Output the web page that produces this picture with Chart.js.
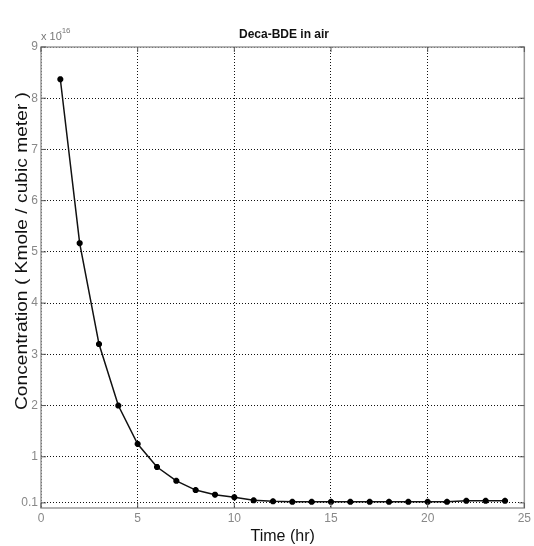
<!DOCTYPE html>
<html lang="en">
<head>
    <meta charset="UTF-8">
    <script src="https://cdn.jsdelivr.net/npm/chart.js@4.4.0/dist/chart.umd.min.js"></script>
    <title>Deca-BDE in air</title>
    <style>
        html,body{margin:0; padding:0; background:#fff;}
        div{width:534px; height:546px;}
    </style>
</head>
<body>
    <div>
        <canvas id="myChart" width="534" height="546"></canvas>
    </div>
    <script>
        // time (hr)
        const timeHr = [1,2,3,4,5,6,7,8,9,10,11,12,13,14,15,16,17,18,19,20,21,22,23,24]
        // concentration, x 10^-16 kmole / m3
        const conc = [8.37,5.17,3.2,2.0,1.25,0.8,0.53,0.35,0.26,0.21,0.15,0.13,0.12,0.12,0.12,0.12,0.12,0.12,0.12,0.12,0.12,0.14,0.14,0.14]
        const xTicks = [0,5,10,15,20,25]
        const yTicks = [0.1,1,2,3,4,5,6,7,8,9]

        const FONT = '"Liberation Sans Narrow", "Liberation Sans", Arial, sans-serif'
        const yTitle = 'Concentration ( Kmole / cubic meter )'

        // box, inner tick marks, title, y label and exponent text like matlab
        const framePlugin = {
            id:'frame',
            afterDraw(chart){
                const ctx = chart.ctx
                const a = chart.chartArea
                const xs = chart.scales.x, ys = chart.scales.y
                ctx.save()
                ctx.strokeStyle = '#9a9a9a'
                ctx.lineWidth = 1.5
                ctx.strokeRect(a.left, a.top, a.right-a.left, a.bottom-a.top)
                ctx.strokeStyle = '#555'
                ctx.lineWidth = 1
                ctx.beginPath()
                xTicks.forEach(v=>{
                    const px = xs.getPixelForValue(v)
                    ctx.moveTo(px, a.bottom); ctx.lineTo(px, a.bottom-5)
                    ctx.moveTo(px, a.top); ctx.lineTo(px, a.top+5)
                })
                yTicks.forEach(v=>{
                    const py = ys.getPixelForValue(v)
                    ctx.moveTo(a.left, py); ctx.lineTo(a.left+5, py)
                    ctx.moveTo(a.right, py); ctx.lineTo(a.right-5, py)
                })
                ctx.stroke()

                ctx.fillStyle = '#111'
                ctx.font = 'bold 12px ' + FONT
                ctx.textAlign = 'center'
                ctx.textBaseline = 'alphabetic'
                ctx.fillText('Deca-BDE in air', 284, 38)

                // y label, stretched to the length it has in the picture
                ctx.save()
                ctx.translate(27, 251)
                ctx.rotate(-Math.PI/2)
                ctx.font = '17px "Liberation Sans", Arial, sans-serif'
                const w = ctx.measureText(yTitle).width
                ctx.scale(318/w, 1)
                ctx.fillText(yTitle, 0, 0)
                ctx.restore()

                ctx.fillStyle = '#777'
                ctx.textAlign = 'left'
                ctx.font = '11px ' + FONT
                ctx.fillText('x 10', a.left, 40)
                ctx.font = '8px ' + FONT
                ctx.fillText('-16', a.left+18, 33)
                ctx.restore()
            }
        }

        const ctx = document.getElementById('myChart').getContext('2d')
        const myChart = new Chart(ctx, {
            type:'line',
            data:{
                datasets:[{
                    label:'Deca-BDE in air',
                    data: timeHr.map((t,i)=>({x:t, y:conc[i]})),
                    borderColor:'#111',
                    backgroundColor:'#111',
                    borderWidth:1.5,
                    tension:0,
                    pointStyle:'star',
                    pointRadius:3,
                    pointBorderWidth:2.2,
                    pointBorderColor:'#000',
                    pointBackgroundColor:'#000'
                }]
            },
            options:{
                responsive:false,
                animation:false,
                layout:{padding:{top:47, right:9, left:0, bottom:0}},
                plugins:{
                    legend:{display:false},
                    tooltip:{enabled:false}
                },
                scales:{
                    x:{
                        type:'linear',
                        min:0, max:25,
                        afterBuildTicks: s => { s.ticks = xTicks.map(v=>({value:v})) },
                        afterFit: s => { s.height = 38 },
                        grid:{color:'#111', lineWidth:1, drawTicks:false},
                        border:{display:false, dash:[1,2]},
                        ticks:{color:'#888', padding:3, font:{family:FONT, size:12}, maxRotation:0},
                        title:{display:true, text:'Time (hr)', color:'#111', padding:{top:0, bottom:0}, font:{family:FONT, size:16}}
                    },
                    y:{
                        type:'linear',
                        min:0, max:9,
                        afterBuildTicks: s => { s.ticks = yTicks.map(v=>({value:v})) },
                        afterFit: s => { s.width = 41 },
                        grid:{color:'#111', lineWidth:1, drawTicks:false},
                        border:{display:false, dash:[1,2]},
                        ticks:{color:'#888', padding:3, font:{family:FONT, size:12},
                            callback: v => String(v)}
                    }
                }
            },
            plugins:[framePlugin]
        })//chart
    </script>
</body>
</html>
